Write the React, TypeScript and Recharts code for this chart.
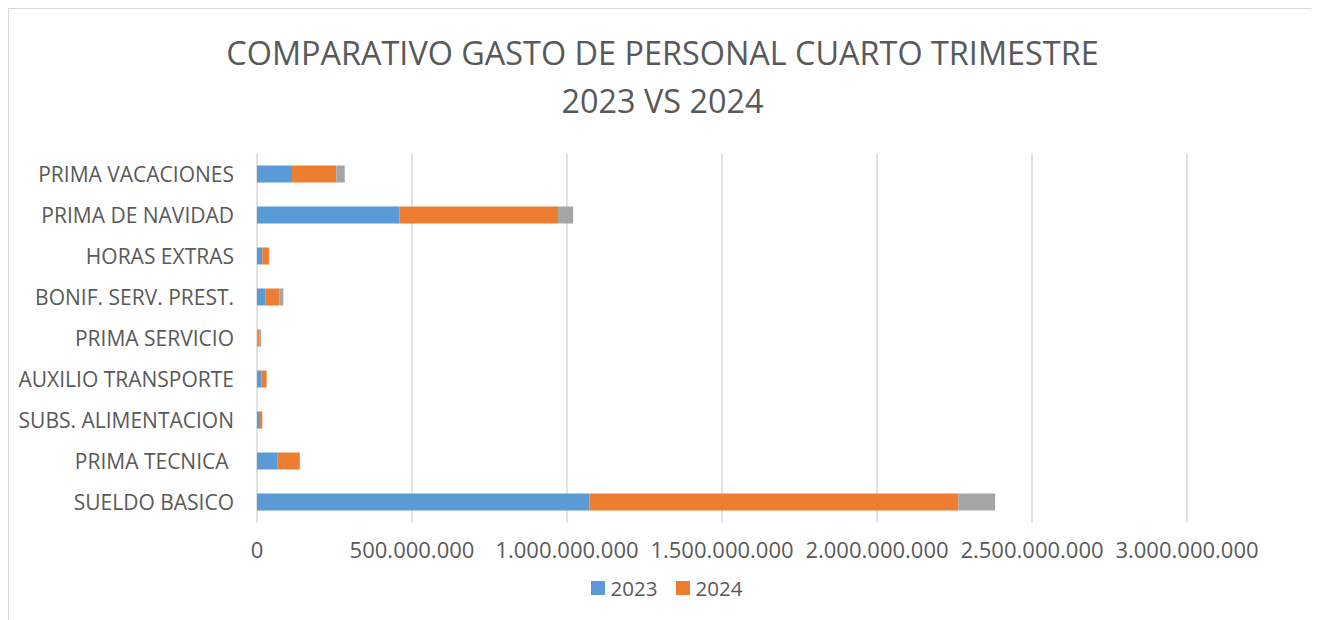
import { BarChart, Bar, XAxis, YAxis, CartesianGrid } from "recharts"

const categories = [
  "PRIMA VACACIONES",
  "PRIMA DE NAVIDAD",
  "HORAS EXTRAS",
  "BONIF. SERV. PREST.",
  "PRIMA SERVICIO",
  "AUXILIO TRANSPORTE",
  "SUBS. ALIMENTACION",
  "PRIMA TECNICA ",
  "SUELDO BASICO",
]

const values2023 = [113e6, 459e6, 17e6, 28e6, 1.5e6, 14e6, 6.5e6, 67e6, 1072e6]
const values2024 = [143e6, 512e6, 21.5e6, 45e6, 6e6, 17e6, 10.5e6, 71e6, 1190e6]
const valuesDiff = [27e6, 49e6, 0, 12e6, 6e6, 0, 0, 0, 119e6]

const xTicks = [0, 5e8, 1e9, 1.5e9, 2e9, 2.5e9, 3e9]

const data = categories.map((name, i) => ({
  name,
  y2023: values2023[i],
  y2024: values2024[i],
  diff: valuesDiff[i],
}))

const FONT = "'Open Sans', sans-serif"
const TEXT = "#595959"

const fmt = (v: number) => (v === 0 ? "0" : Math.round(v).toString().replace(/\B(?=(\d{3})+(?!\d))/g, "."))

export default function App() {
  return (
    <div
      style={{
        position: "relative",
        width: 1307,
        height: 640,
        border: "1px solid #D9D9D9",
        background: "#fff",
        fontFamily: FONT,
      }}
    >
      <div
        style={{
          position: "absolute",
          top: 19,
          left: 0,
          width: 1307,
          textAlign: "center",
          color: TEXT,
          fontSize: 32.4,
          lineHeight: "48px",
        }}
      >
        COMPARATIVO GASTO DE PERSONAL CUARTO TRIMESTRE
        <br />
        2023 VS 2024
      </div>
      <BarChart
        width={1307}
        height={620}
        data={data}
        layout="vertical"
        margin={{ top: 144.5, right: 129, bottom: 66.5, left: 0 }}
      >
        <CartesianGrid vertical horizontal={false} stroke="#D9D9D9" strokeWidth={1.5} />
        <XAxis
          type="number"
          domain={[0, 3e9]}
          ticks={xTicks}
          tickFormatter={fmt}
          axisLine={false}
          tickLine={false}
          tickSize={0}
          tickMargin={20}
          height={40}
          tick={{ fill: TEXT, fontSize: 22, fontFamily: FONT }}
        />
        <YAxis
          type="category"
          dataKey="name"
          width={248}
          axisLine={false}
          tickLine={false}
          tickSize={0}
          tickMargin={23}
          interval={0}
          tick={{ fill: TEXT, fontSize: 21, fontFamily: FONT, dy: 1, style: { whiteSpace: "pre" } }}
        />
        <Bar dataKey="y2023" name="2023" stackId="a" fill="#5B9BD5" barSize={17} isAnimationActive={false} />
        <Bar dataKey="y2024" name="2024" stackId="a" fill="#ED7D31" barSize={17} isAnimationActive={false} />
        <Bar dataKey="diff" name="Diferencia" stackId="a" fill="#A5A5A5" barSize={17} isAnimationActive={false} />
      </BarChart>
      <div
        style={{
          position: "absolute",
          top: 566,
          left: 4,
          width: 1307,
          display: "flex",
          justifyContent: "center",
          gap: 18,
          color: TEXT,
          fontSize: 20.5,
          lineHeight: "26px",
        }}
      >
        {[
          { label: "2023", color: "#5B9BD5" },
          { label: "2024", color: "#ED7D31" },
        ].map((l) => (
          <div key={l.label} style={{ display: "flex", alignItems: "center", gap: 6 }}>
            <span style={{ width: 14, height: 14, background: l.color, display: "inline-block" }} />
            <span>{l.label}</span>
          </div>
        ))}
      </div>
    </div>
  )
}
